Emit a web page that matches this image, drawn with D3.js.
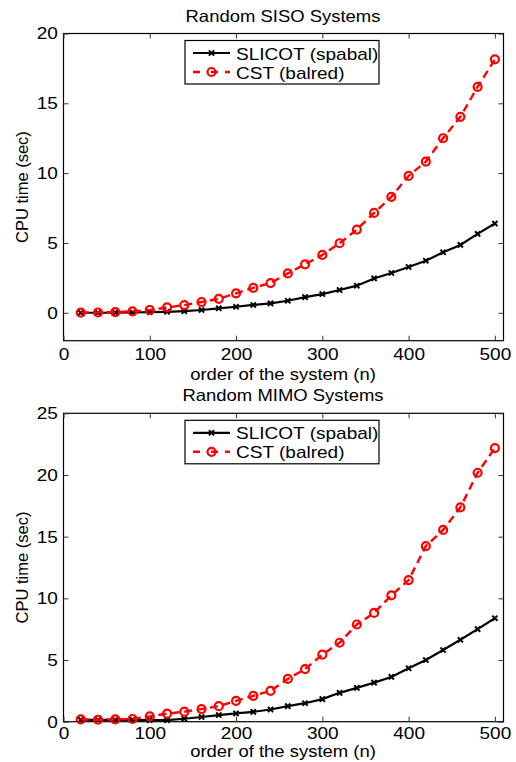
<!DOCTYPE html>
<html>
<head>
<meta charset="utf-8">
<script src="https://cdn.jsdelivr.net/npm/d3@7"></script>
<style>
  body { margin: 0; background: #fff; }
  text { font-family: "Liberation Sans", Arial, sans-serif; fill: #000; }
</style>
</head>
<body>
<script>
// system orders (x values)
const orders = [20, 40, 60, 80, 100, 120, 140, 160, 180, 200, 220, 240, 260,
  280, 300, 320, 340, 360, 380, 400, 420, 440, 460, 480, 500];

// Random SISO systems, CPU time (sec)
const sisoSlicot = [0.0, 0.0, 0.01, 0.02, 0.04, 0.07, 0.12, 0.2, 0.32, 0.43, 0.56, 0.67, 0.86,
  1.12, 1.34, 1.63, 1.94, 2.46, 2.85, 3.28, 3.73, 4.33, 4.86, 5.65, 6.39];
const sisoCst = [0.01, 0.02, 0.05, 0.1, 0.2, 0.38, 0.55, 0.77, 1.0, 1.39, 1.79, 2.13, 2.82,
  3.47, 4.14, 4.98, 5.96, 7.15, 8.3, 9.8, 10.83, 12.5, 14.03, 16.18, 18.15];

// Random MIMO systems, CPU time (sec)
const mimoSlicot = [0.15, 0.14, 0.14, 0.15, 0.13, 0.12, 0.24, 0.38, 0.54, 0.67, 0.8, 0.99, 1.26,
  1.5, 1.83, 2.34, 2.74, 3.17, 3.63, 4.33, 5.0, 5.81, 6.64, 7.5, 8.39];
const mimoCst = [0.19, 0.16, 0.19, 0.22, 0.43, 0.65, 0.81, 1.02, 1.26, 1.69, 2.1, 2.5, 3.47,
  4.27, 5.43, 6.4, 7.88, 8.82, 10.24, 11.48, 14.24, 15.55, 17.37, 20.18, 22.18];

const xTicks = [0, 100, 200, 300, 400, 500];
const sisoYTicks = [0, 5, 10, 15, 20];
const mimoYTicks = [0, 5, 10, 15, 20, 25];

const seriesNames = ["SLICOT (spabal)", "CST (balred)"];

const W = 516, H = 762;
const stretch = 1.12; // text in the reference is a bit wide

const svg = d3.select("body").append("svg")
  .attr("width", W)
  .attr("height", H);

function stretchedText(g, x, y, str, size, anchor) {
  return g.append("text")
    .attr("transform", `translate(${x},${y}) scale(${stretch},1)`)
    .attr("text-anchor", anchor || "start")
    .style("font-size", size + "px")
    .text(str);
}

function drawPanel(opt) {
  const x = d3.scaleLinear().domain([0, 510]).range([63.5, 503.5]);
  const y = d3.scaleLinear().domain(opt.yDomain).range([opt.bottom, opt.top]);
  const g = svg.append("g");

  // box
  g.append("rect")
    .attr("x", x.range()[0]).attr("y", opt.top)
    .attr("width", x.range()[1] - x.range()[0])
    .attr("height", opt.bottom - opt.top)
    .attr("fill", "none").attr("stroke", "#000").attr("stroke-width", 1.2);

  // axes with inward ticks
  const bottomAxis = g.append("g")
    .attr("transform", `translate(0,${opt.bottom})`)
    .call(d3.axisBottom(x).tickValues(xTicks).tickSizeInner(-5).tickSizeOuter(0).tickPadding(opt.xPad));
  g.append("g")
    .attr("transform", `translate(0,${opt.top})`)
    .call(d3.axisTop(x).tickValues(xTicks).tickSizeInner(-5).tickSizeOuter(0).tickFormat(""));
  const leftAxis = g.append("g")
    .attr("transform", `translate(${x.range()[0]},0)`)
    .call(d3.axisLeft(y).tickValues(opt.yTicks).tickSizeInner(-5).tickSizeOuter(0).tickPadding(5));
  g.append("g")
    .attr("transform", `translate(${x.range()[1]},0)`)
    .call(d3.axisRight(y).tickValues(opt.yTicks).tickSizeInner(-5).tickSizeOuter(0).tickFormat(""));

  g.selectAll(".domain").remove();
  g.selectAll(".tick line").attr("stroke", "#333");
  [bottomAxis, leftAxis].forEach(a => a.selectAll("text")
    .style("font-size", "17px")
    .attr("fill", "#000")
    .attr("transform", `scale(${stretch},1)`));

  const data1 = orders.map((o, i) => [o, opt.slicot[i]]);
  const data2 = orders.map((o, i) => [o, opt.cst[i]]);
  const line = d3.line().x(d => x(d[0])).y(d => y(d[1]));

  // SLICOT: black solid with x markers
  g.append("path").datum(data1)
    .attr("d", line).attr("fill", "none")
    .attr("stroke", "#000").attr("stroke-width", 2.2);
  g.selectAll(".xmark").data(data1).enter().append("path")
    .attr("class", "xmark")
    .attr("transform", d => `translate(${x(d[0])},${y(d[1])})`)
    .attr("d", "M-2.6,-2.6L2.6,2.6M-2.6,2.6L2.6,-2.6")
    .attr("stroke", "#000").attr("stroke-width", 2);

  // CST: red dashed with circles
  g.append("path").datum(data2)
    .attr("d", line).attr("fill", "none")
    .attr("stroke", "#f00").attr("stroke-width", 2.4)
    .attr("stroke-dasharray", "8,5");
  g.selectAll(".omark").data(data2).enter().append("circle")
    .attr("class", "omark")
    .attr("cx", d => x(d[0])).attr("cy", d => y(d[1]))
    .attr("r", 4)
    .attr("fill", "none").attr("stroke", "#f00").attr("stroke-width", 2.2);

  // title and axis labels
  stretchedText(g, 283, opt.top - 12, opt.title, 16.5, "middle");
  stretchedText(g, 283, opt.xLabelY, "order of the system (n)", 16.5, "middle");
  g.append("text")
    .attr("transform", `translate(28,${(opt.top + opt.bottom) / 2}) rotate(-90)`)
    .attr("text-anchor", "middle")
    .style("font-size", "16.5px")
    .text("CPU time (sec)");

  // legend
  const lx = 185, ly = opt.top + 7;
  g.append("rect")
    .attr("x", lx).attr("y", ly).attr("width", 194).attr("height", 43.5)
    .attr("fill", "#fff").attr("stroke", "#000").attr("stroke-width", 1.2);
  const row1 = ly + 12.5, row2 = ly + 31.5;
  g.append("line")
    .attr("x1", 193).attr("x2", 230).attr("y1", row1).attr("y2", row1)
    .attr("stroke", "#000").attr("stroke-width", 2.2);
  g.append("path")
    .attr("transform", `translate(211.5,${row1})`)
    .attr("d", "M-2.6,-2.6L2.6,2.6M-2.6,2.6L2.6,-2.6")
    .attr("stroke", "#000").attr("stroke-width", 2);
  g.append("line")
    .attr("x1", 193).attr("x2", 230).attr("y1", row2).attr("y2", row2)
    .attr("stroke", "#f00").attr("stroke-width", 2.4)
    .attr("stroke-dasharray", "7,11,7");
  g.append("circle")
    .attr("cx", 211.5).attr("cy", row2).attr("r", 4)
    .attr("fill", "none").attr("stroke", "#f00").attr("stroke-width", 2.2);
  stretchedText(g, 236, row1 + 6.5, seriesNames[0], 17);
  stretchedText(g, 236, row2 + 6.5, seriesNames[1], 17);
}

drawPanel({
  title: "Random SISO Systems",
  top: 33.5, bottom: 340.7, yDomain: [-2, 20], yTicks: sisoYTicks,
  slicot: sisoSlicot, cst: sisoCst, xPad: 7, xLabelY: 380
});

drawPanel({
  title: "Random MIMO Systems",
  top: 413.3, bottom: 721.7, yDomain: [0, 25], yTicks: mimoYTicks,
  slicot: mimoSlicot, cst: mimoCst, xPad: 5, xLabelY: 757
});
</script>
</body>
</html>
